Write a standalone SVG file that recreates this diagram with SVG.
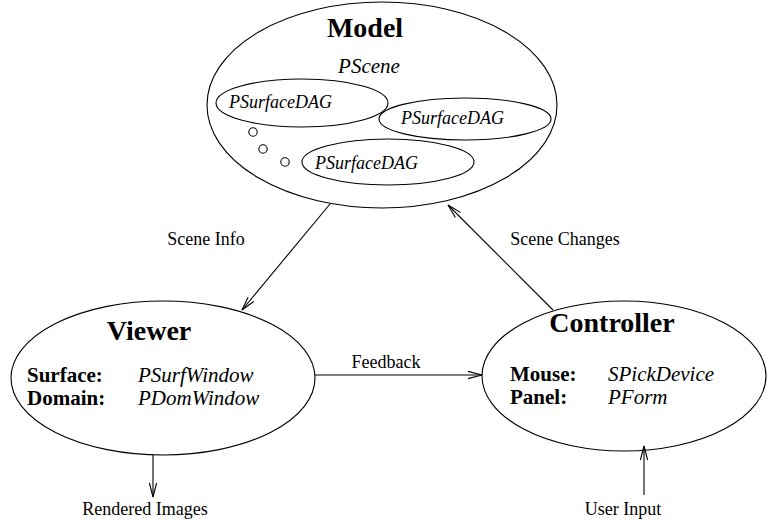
<svg xmlns="http://www.w3.org/2000/svg" width="768" height="520" viewBox="0 0 768 520">
  <style>
    .shape { fill: none; stroke: #000; stroke-width: 1.1; }
    .edge { fill: none; stroke: #000; stroke-width: 1.1; marker-end: url(#open-arrow); }
    text { fill: #000; }
    .title { font-size: 28px; font-weight: bold; text-anchor: middle; }
    .label { font-size: 18px; text-anchor: middle; }
    .key { font-size: 21px; font-weight: bold; }
    .cls { font-size: 21px; font-style: italic; }
    .dag { font-size: 18px; font-style: italic; }
  </style>
  <defs>
    <marker id="open-arrow" markerUnits="userSpaceOnUse" viewBox="-15 -5 16 10" refX="0" refY="0" markerWidth="16" markerHeight="10" orient="auto">
      <path d="M-14,-3.6 L0,0 L-14,3.6" fill="none" stroke="#000" stroke-width="1.1"/>
    </marker>
  </defs>
  <rect width="768" height="520" fill="#fff"/>

  <g font-family="'Liberation Serif', 'Times New Roman', serif">
    <g id="model">
      <ellipse class="shape" cx="382" cy="105" rx="175" ry="103"/>
      <text class="title" x="365" y="37">Model</text>
      <text class="cls" x="369" y="73" text-anchor="middle">PScene</text>
      <g id="dag-1">
        <ellipse class="shape" cx="302" cy="103" rx="86" ry="24"/>
        <text class="dag" x="229" y="108">PSurfaceDAG</text>
      </g>
      <g id="dag-2">
        <ellipse class="shape" cx="465" cy="119" rx="86" ry="21"/>
        <text class="dag" x="401" y="124">PSurfaceDAG</text>
      </g>
      <g id="dag-3">
        <ellipse class="shape" cx="388" cy="162" rx="86" ry="23"/>
        <text class="dag" x="315" y="169">PSurfaceDAG</text>
      </g>
      <g id="ellipsis">
        <circle class="shape" cx="253" cy="132" r="4.2"/>
        <circle class="shape" cx="263" cy="149" r="4.2"/>
        <circle class="shape" cx="285" cy="162" r="4.2"/>
      </g>
    </g>

    <g id="viewer">
      <ellipse class="shape" cx="163" cy="378" rx="152" ry="77"/>
      <text class="title" x="149" y="340">Viewer</text>
      <text class="key" x="27" y="382">Surface:</text>
      <text class="cls" x="138" y="382">PSurfWindow</text>
      <text class="key" x="27" y="405">Domain:</text>
      <text class="cls" x="138" y="405">PDomWindow</text>
    </g>

    <g id="controller">
      <ellipse class="shape" cx="624" cy="376" rx="142" ry="75"/>
      <text class="title" x="612" y="332">Controller</text>
      <text class="key" x="510" y="381">Mouse:</text>
      <text class="cls" x="608" y="381">SPickDevice</text>
      <text class="key" x="510" y="404">Panel:</text>
      <text class="cls" x="608" y="404">PForm</text>
    </g>

    <g id="connectors">
      <line class="edge" x1="330" y1="204" x2="242" y2="310"/>
      <text class="label" x="206" y="245">Scene Info</text>
      <line class="edge" x1="553" y1="310" x2="448" y2="205"/>
      <text class="label" x="565" y="245">Scene Changes</text>
      <line class="edge" x1="315" y1="375" x2="482" y2="375"/>
      <text class="label" x="386" y="368">Feedback</text>
      <line class="edge" x1="153" y1="455" x2="153" y2="497"/>
      <text class="label" x="145" y="515">Rendered Images</text>
      <line class="edge" x1="644" y1="495" x2="644" y2="446"/>
      <text class="label" x="623" y="515">User Input</text>
    </g>
  </g>
</svg>
